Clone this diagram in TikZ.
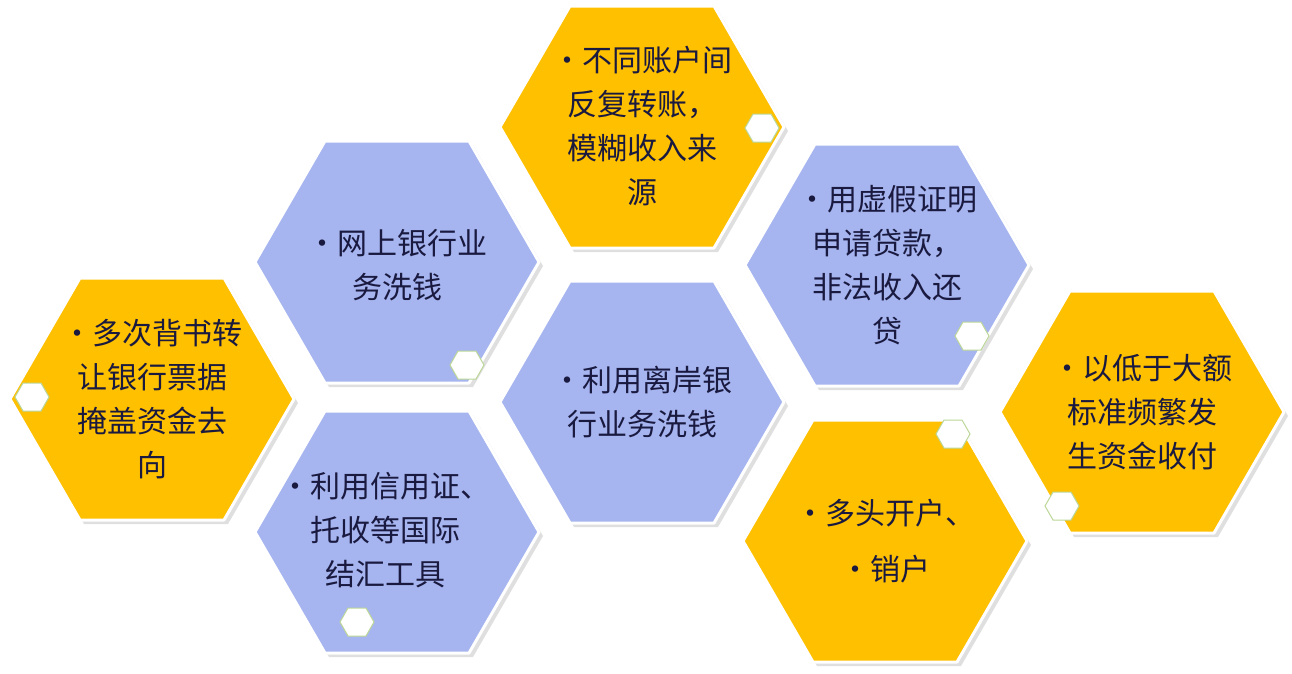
\documentclass[tikz,border=0pt]{standalone}
\usepackage{fontspec}
\newfontfamily\cjk{Noto Sans CJK SC}
\definecolor{hy}{HTML}{FFC000}
\definecolor{hb}{HTML}{A6B5EF}
\definecolor{tx}{HTML}{1A1A40}
\definecolor{sg}{HTML}{8DBB50}
\tikzset{
  hexpath/.style={line width=3pt, draw=white, line join=round},
  lbl/.style={font=\cjk\fontsize{30}{44}\selectfont, text=tx, align=center, inner sep=0pt},
}
\newcommand{\bighex}[4]{%
  \fill[black!35, opacity=0.35] ({#1-142+4},{#2+4}) -- ({#1-72+4},{#2-121+4}) -- ({#1+72+4},{#2-121+4}) -- ({#1+142+4},{#2+4}) -- ({#1+72+4},{#2+121+4}) -- ({#1-72+4},{#2+121+4}) -- cycle;
  \filldraw[hexpath, fill=#3] ({#1-142},{#2}) -- ({#1-72},{#2-121}) -- ({#1+72},{#2-121}) -- ({#1+142},{#2}) -- ({#1+72},{#2+121}) -- ({#1-72},{#2+121}) -- cycle;
  \coordinate (#4) at (#1,#2);}
\newcommand{\smallhex}[2]{%
  \filldraw[fill=white, draw=sg!60, line width=1pt] ({#1-17},{#2}) -- ({#1-9},{#2-14}) -- ({#1+9},{#2-14}) -- ({#1+17},{#2}) -- ({#1+9},{#2+14}) -- ({#1-9},{#2+14}) -- cycle;}
\begin{document}
\begin{tikzpicture}[x=1pt,y=-1pt]
\useasboundingbox[fill=white] (0,0) rectangle (1292,673);
\bighex{152}{399}{hy}{h1}
\bighex{397}{262}{hb}{h2}
\bighex{397}{532}{hb}{h3}
\bighex{642}{127}{hy}{h4}
\bighex{642}{402}{hb}{h5}
\bighex{887}{265}{hb}{h6}
\bighex{885}{541}{hy}{h7}
\bighex{1142}{412}{hy}{h8}
\smallhex{32}{397}
\smallhex{467}{365}
\smallhex{357}{622}
\smallhex{762}{128}
\smallhex{972}{336}
\smallhex{953}{434}
\smallhex{1062}{506}
\node[lbl] (t1) at (152,399) {•多次背书转\\让银行票据\\掩盖资金去\\向};
\node[lbl] (t2) at (397,265) {•网上银行业\\务洗钱};
\node[lbl] (t3) at (385,530) {•利用信用证、\\托收等国际\\结汇工具};
\node[lbl] (t4) at (642,126) {•不同账户间\\反复转账，\\模糊收入来\\源};
\node[lbl] (t5) at (642,402) {•利用离岸银\\行业务洗钱};
\node[lbl] (t6) at (887,265) {•用虚假证明\\申请贷款，\\非法收入还\\贷};
\node[lbl, font=\cjk\fontsize{30}{56}\selectfont] (t7) at (885,541) {•多头开户、\\•销户};
\node[lbl] (t8) at (1142,412) {•以低于大额\\标准频繁发\\生资金收付};
\end{tikzpicture}
\end{document}
